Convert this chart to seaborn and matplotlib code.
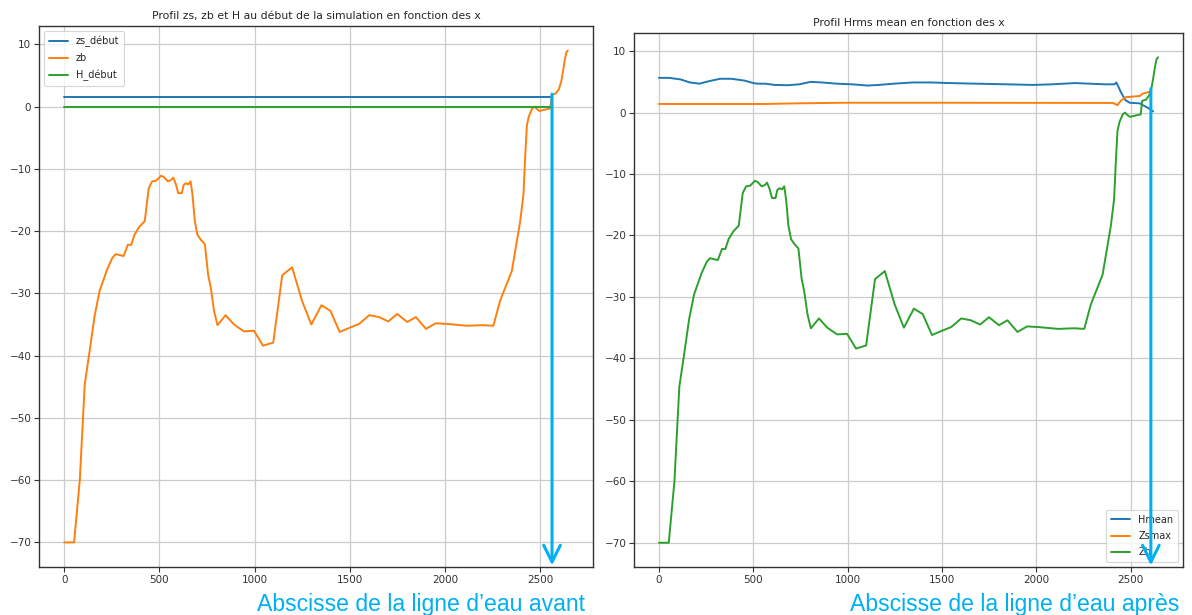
import matplotlib
matplotlib.use("Agg")
import matplotlib.pyplot as plt
import seaborn as sns
import pandas as pd

# ---- data ----
zb_x = [0, 52, 82, 108, 134, 160, 186, 225, 253, 270, 312, 334, 352, 369, 395, 423,
        444, 462, 483, 509, 523, 544, 561, 573, 587, 599, 618, 627, 639, 652, 664,
        674, 686, 700, 718, 739, 756, 770, 787, 805, 848, 892, 944, 997, 1044, 1098,
        1145, 1197, 1249, 1298, 1351, 1398, 1447, 1500, 1549, 1602, 1653, 1702, 1749,
        1802, 1847, 1900, 1951, 2009, 2114, 2202, 2254, 2289, 2351, 2395, 2412, 2422,
        2430, 2441, 2458, 2470, 2479, 2496, 2523, 2553, 2561, 2581, 2598, 2611, 2620,
        2628, 2637, 2645]
zb = [-70.0, -70.0, -60.0, -44.6, -39.2, -33.6, -29.6, -26.2, -24.3, -23.7, -24.0,
      -22.2, -22.2, -20.6, -19.3, -18.4, -13.1, -12.0, -11.9, -11.1, -11.3, -12.0,
      -11.8, -11.4, -12.5, -13.9, -13.9, -12.6, -12.3, -12.5, -12.0, -14.2, -18.4,
      -20.6, -21.4, -22.1, -27.0, -29.1, -32.8, -35.1, -33.5, -35.0, -36.1, -36.0,
      -38.4, -37.9, -27.1, -25.8, -31.2, -35.0, -31.9, -32.8, -36.2, -35.5, -34.9,
      -33.5, -33.8, -34.5, -33.3, -34.6, -33.8, -35.7, -34.8, -34.9, -35.2, -35.1,
      -35.2, -31.2, -26.4, -18.4, -14.1, -7.5, -3.0, -1.5, -0.3, 0.0, -0.3, -0.7,
      -0.5, -0.3, 1.9, 2.1, 2.8, 4.1, 5.7, 7.3, 8.7, 9.0]

zs_debut_x = [0, 2560]
zs_debut = [1.5, 1.5]
h_debut_x = [0, 2555]
h_debut = [0.0, 0.0]

hmean_x = [0, 54, 114, 164, 214, 264, 324, 384, 454, 500, 524, 564, 614, 684, 744,
           804, 864, 944, 1024, 1104, 1164, 1244, 1344, 1444, 1544, 1684, 1844, 1984,
           2084, 2204, 2284, 2364, 2414, 2424, 2432, 2450, 2473, 2495, 2548, 2565,
           2592, 2619]
hmean = [5.65, 5.65, 5.4, 4.9, 4.7, 5.1, 5.5, 5.5, 5.2, 4.8, 4.7, 4.7, 4.5, 4.45,
         4.6, 5.0, 4.9, 4.7, 4.6, 4.4, 4.5, 4.7, 4.9, 4.9, 4.8, 4.7, 4.6, 4.5, 4.6,
         4.8, 4.7, 4.6, 4.6, 4.9, 4.4, 3.2, 2.0, 1.6, 1.5, 1.2, 0.76, 0.2]

zsmax_x = [0, 564, 724, 984, 1484, 2406, 2429, 2450, 2473, 2548, 2565, 2597, 2608]
zsmax = [1.4, 1.4, 1.5, 1.6, 1.6, 1.57, 1.2, 2.0, 2.5, 2.7, 3.1, 3.35, 3.4]

title_left = "Profil zs, zb et H au début de la simulation en fonction des x"
title_right = "Profil Hrms mean en fonction des x"
label_left = "Abscisse de la ligne d\u2019eau avant"
label_right = "Abscisse de la ligne d\u2019eau après"
arrow_left = (2562, 2.0)
arrow_right = (2607, 3.9)

# ---- style ----
sns.set_style("whitegrid", {
    "axes.edgecolor": "0.2",
    "grid.color": "0.8",
    "xtick.bottom": True,
    "ytick.left": True,
})
plt.rcParams["font.family"] = ["DejaVu Sans"]
plt.rcParams["axes.linewidth"] = 1.0
plt.rcParams["grid.linewidth"] = 0.9
plt.rcParams["xtick.color"] = "0.2"
plt.rcParams["ytick.color"] = "0.2"
plt.rcParams["xtick.major.size"] = 3.5
plt.rcParams["ytick.major.size"] = 3.5
plt.rcParams["xtick.major.width"] = 0.8
plt.rcParams["ytick.major.width"] = 0.8

pal = sns.color_palette("tab10")
cyan = "#00B0F0"

fig = plt.figure(figsize=(11.92, 6.15), dpi=100)
ax1 = fig.add_axes([39 / 1192, 48 / 615, 554 / 1192, 541 / 615])
ax2 = fig.add_axes([634 / 1192, 48 / 615, 549 / 1192, 534 / 615])

lw = 1.4
sns.lineplot(x=zs_debut_x, y=zs_debut, ax=ax1, color=pal[0], lw=lw, label="zs_début", sort=False)
sns.lineplot(x=zb_x, y=zb, ax=ax1, color=pal[1], lw=lw, label="zb", sort=False)
sns.lineplot(x=h_debut_x, y=h_debut, ax=ax1, color=pal[2], lw=lw, label="H_début", sort=False)

sns.lineplot(x=hmean_x, y=hmean, ax=ax2, color=pal[0], lw=lw, label="Hmean", sort=False)
sns.lineplot(x=zsmax_x, y=zsmax, ax=ax2, color=pal[1], lw=lw, label="Zsmax", sort=False)
sns.lineplot(x=zb_x, y=zb, ax=ax2, color=pal[2], lw=lw, label="Zb", sort=False)

for ax, title in ((ax1, title_left), (ax2, title_right)):
    ax.set_title(title, fontsize=7.8, pad=5, color="0.15")
    ax.tick_params(labelsize=7.5, pad=2)
    ax.set_xticks([0, 500, 1000, 1500, 2000, 2500])
    ax.set_yticks([10, 0, -10, -20, -30, -40, -50, -60, -70])
    ax.set_xlabel("")
    ax.set_ylabel("")

leg1 = ax1.legend(loc="upper left", fontsize=7, frameon=True, handlelength=2.0,
                  borderpad=0.5, labelspacing=0.65)
leg2 = ax2.legend(loc="lower right", fontsize=7, frameon=True, handlelength=2.0,
                  borderpad=0.5, labelspacing=0.65)
for leg in (leg1, leg2):
    leg.get_frame().set_edgecolor("0.8")
    leg.get_frame().set_linewidth(0.8)

# arrows marking the water line abscissa
for ax, (ax_x, ax_y) in ((ax1, arrow_left), (ax2, arrow_right)):
    ann = ax.annotate("", xy=(ax_x, 0.003), xycoords=("data", "axes fraction"),
                      xytext=(ax_x, ax_y), textcoords="data",
                      arrowprops=dict(arrowstyle="->,head_length=12,head_width=6",
                                      mutation_scale=1, color=cyan, lw=2.2,
                                      shrinkA=0, shrinkB=0))
    ann.set_zorder(10)

fig.text(257 / 1192, 4 / 615, label_left, fontsize=16.6, color=cyan,
         family=["Liberation Sans", "DejaVu Sans"], va="baseline", ha="left")
fig.text(850 / 1192, 4 / 615, label_right, fontsize=16.6, color=cyan,
         family=["Liberation Sans", "DejaVu Sans"], va="baseline", ha="left")

fig.savefig("out.png", dpi=100, facecolor="white")
